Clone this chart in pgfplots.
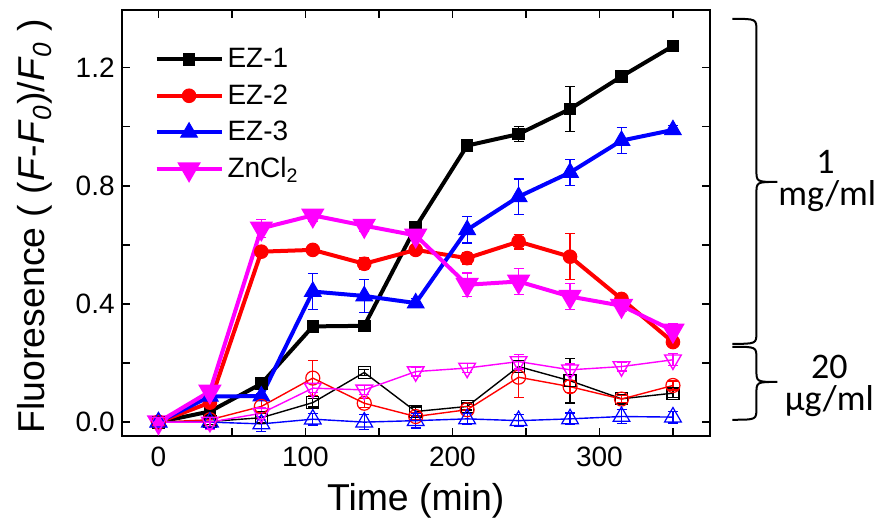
\documentclass[border=0pt]{standalone}
\usepackage{fontspec}
\setmainfont{Liberation Sans}
\newfontfamily\carlito{Carlito}
\usepackage{pgfplots}
\usepackage{pgfplotstable}
\pgfplotsset{compat=1.18}
\definecolor{mag}{RGB}{255,0,255}
\definecolor{rd}{RGB}{255,0,0}
\definecolor{bl}{RGB}{0,0,255}

\pgfplotstableread{
x y e
0 0 0.005
35 0.036 0.01
70 0.13 0.012
105 0.324 0.012
140 0.326 0.015
175 0.66 0.02
210 0.936 0.01
245 0.975 0.025
280 1.06 0.077
315 1.17 0.012
350 1.273 0.01
}\EZoneHi
\pgfplotstableread{
x y e
0 0 0.005
35 0.066 0.01
70 0.577 0.015
105 0.583 0.015
140 0.536 0.02
175 0.583 0.015
210 0.555 0.02
245 0.611 0.025
280 0.56 0.078
315 0.417 0.015
350 0.271 0.015
}\EZtwoHi
\pgfplotstableread{
x y e
0 0 0.01
35 0.087 0.01
70 0.088 0.01
105 0.442 0.06
140 0.427 0.055
175 0.403 0.015
210 0.651 0.045
245 0.763 0.06
280 0.845 0.043
315 0.953 0.043
350 0.989 0.015
}\EZthreeHi
\pgfplotstableread{
x y e
0 0 0.01
35 0.104 0.01
70 0.656 0.03
105 0.70 0.02
140 0.665 0.02
175 0.632 0.015
210 0.465 0.04
245 0.476 0.045
280 0.425 0.045
315 0.394 0.02
350 0.31 0.025
}\ZnHi
\pgfplotstableread{
x y e
0 0 0.01
35 0.002 0.01
70 0.015 0.015
105 0.066 0.015
140 0.168 0.01
175 0.036 0.015
210 0.053 0.012
245 0.188 0.02
280 0.14 0.075
315 0.079 0.015
350 0.098 0.015
}\EZoneLo
\pgfplotstableread{
x y e
0 0 0.01
35 0.008 0.01
70 0.053 0.02
105 0.149 0.06
140 0.064 0.015
175 0.019 0.012
210 0.042 0.012
245 0.152 0.07
280 0.12 0.02
315 0.078 0.012
350 0.124 0.015
}\EZtwoLo
\pgfplotstableread{
x y e
0 0 0.02
35 0.0 0.02
70 -0.006 0.025
105 0.01 0.02
140 0.0 0.025
175 0.005 0.025
210 0.011 0.02
245 0.005 0.02
280 0.011 0.02
315 0.019 0.025
350 0.017 0.02
}\EZthreeLo
\pgfplotstableread{
x y e
0 0 0.02
35 0.0 0.025
70 0.03 0.02
105 0.115 0.015
140 0.109 0.015
175 0.171 0.015
210 0.183 0.015
245 0.205 0.025
280 0.177 0.02
315 0.188 0.015
350 0.211 0.02
}\ZnLo

\pgfplotsset{
  errs/.style={
    error bars/y dir=both, error bars/y explicit,
    error bars/error bar style={line width=0.6pt},
    error bars/error mark options={rotate=90, mark size=2.5pt, line width=0.6pt}},
  hi/.style={line width=2pt, mark options={solid, line width=0.5pt}, errs},
  lo/.style={line width=0.7pt, mark options={solid, line width=0.6pt, fill=white}, errs},
}

\begin{document}
\begin{tikzpicture}
\path[use as bounding box] (-60.85pt,-47pt) rectangle (382.15pt,218pt);
\begin{axis}[
  at={(0pt,0pt)}, anchor=south west,
  width=294pt, height=213pt, scale only axis,
  xmin=-25, xmax=375, ymin=-0.047, ymax=1.395,
  /pgf/number format/assume math mode=true,
  axis line style={line width=1pt},
  major tick length=4pt, minor tick length=4pt,
  every tick/.style={black, line width=0.8pt},
  clip=false,
  xtick={0,100,200,300}, minor xtick={50,150,250,350},
  ytick={0,0.4,0.8,1.2}, minor ytick={0.2,0.6,1.0},
  xtick pos=both, ytick pos=both, tick align=inside,
  xticklabel pos=lower, yticklabel pos=left,
  xticklabel style={font=\fontsize{14}{16}\selectfont, yshift=-2pt},
  yticklabel style={font=\fontsize{14}{16}\selectfont, /pgf/number format/.cd, fixed, fixed zerofill, precision=1},
  xlabel={Time (min)},
  every axis x label/.style={at={(axis description cs:0.5,-0.153)}, anchor=center, font=\fontsize{18.7}{22}\selectfont},
  ylabel={Fluoresence ( (\textit{F}-\textit{F}\textsubscript{\textit{0}})/\textit{F}\textsubscript{\textit{0}} )},
  every axis y label/.style={at={(axis description cs:-0.1474,0.493)}, rotate=90, anchor=center, font=\fontsize{18.7}{22}\selectfont},
  legend style={at={(axis description cs:0.045,0.93)}, anchor=north west, draw=none, fill=none,
    font=\fontsize{14}{16}\selectfont, row sep=3pt},
  legend cell align=left,
  legend image code/.code={\draw[mark repeat=2,mark phase=2] plot coordinates {(0pt,0pt) (16.25pt,0pt) (32.5pt,0pt)};},
]
\addplot[hi, black, mark=square*, mark size=2.9pt] table[x=x,y=y,y error=e] {\EZoneHi};
\addlegendentry{EZ-1}
\addplot[hi, rd, mark=*, mark size=3.4pt] table[x=x,y=y,y error=e] {\EZtwoHi};
\addlegendentry{EZ-2}
\addplot[hi, bl, mark=triangle*, mark size=4.8pt] table[x=x,y=y,y error=e] {\EZthreeHi};
\addlegendentry{EZ-3}
\addplot[hi, mag, mark=triangle*, mark size=4.8pt, mark options={rotate=180}] table[x=x,y=y,y error=e] {\ZnHi};
\addlegendentry{ZnCl\textsubscript{2}}

\addplot[lo, black, mark=square, mark size=3pt, forget plot] table[x=x,y=y,y error=e] {\EZoneLo};
\addplot[lo, rd, mark=o, mark size=3.5pt, forget plot] table[x=x,y=y,y error=e] {\EZtwoLo};
\addplot[lo, bl, mark=triangle, mark size=4.8pt, forget plot] table[x=x,y=y,y error=e] {\EZthreeLo};
\addplot[lo, mag, mark=triangle, mark size=4.8pt, mark options={rotate=180}, forget plot] table[x=x,y=y,y error=e] {\ZnLo};

% braces
\draw[line width=1pt] (axis cs:390.5,1.365) .. controls (axis cs:406.8,1.365) .. (axis cs:406.8,1.325)
  -- (axis cs:406.8,0.853) .. controls (axis cs:406.8,0.813) .. (axis cs:421.1,0.813)
  .. controls (axis cs:406.8,0.813) .. (axis cs:406.8,0.773)
  -- (axis cs:406.8,0.305) .. controls (axis cs:406.8,0.265) .. (axis cs:390.5,0.265);
\draw[line width=1pt] (axis cs:390.5,0.255) .. controls (axis cs:406.8,0.255) .. (axis cs:406.8,0.215)
  -- (axis cs:406.8,0.176) .. controls (axis cs:406.8,0.136) .. (axis cs:421.1,0.136)
  .. controls (axis cs:406.8,0.136) .. (axis cs:406.8,0.096)
  -- (axis cs:406.8,0.048) .. controls (axis cs:406.8,0.008) .. (axis cs:390.5,0.008);
\node[anchor=base, font=\carlito\fontsize{18}{18}\selectfont, inner sep=0pt] at (axis cs:453.7,0.84) {1};
\node[anchor=base, font=\carlito\fontsize{18}{18}\selectfont, inner sep=0pt] at (axis cs:455,0.733) {mg/ml};
\node[anchor=base, font=\carlito\fontsize{18}{18}\selectfont, inner sep=0pt] at (axis cs:456.4,0.146) {20};
\node[anchor=base, font=\carlito\fontsize{18}{18}\selectfont, inner sep=0pt] at (axis cs:456.4,0.039) {µg/ml};
\end{axis}
\end{tikzpicture}
\end{document}
